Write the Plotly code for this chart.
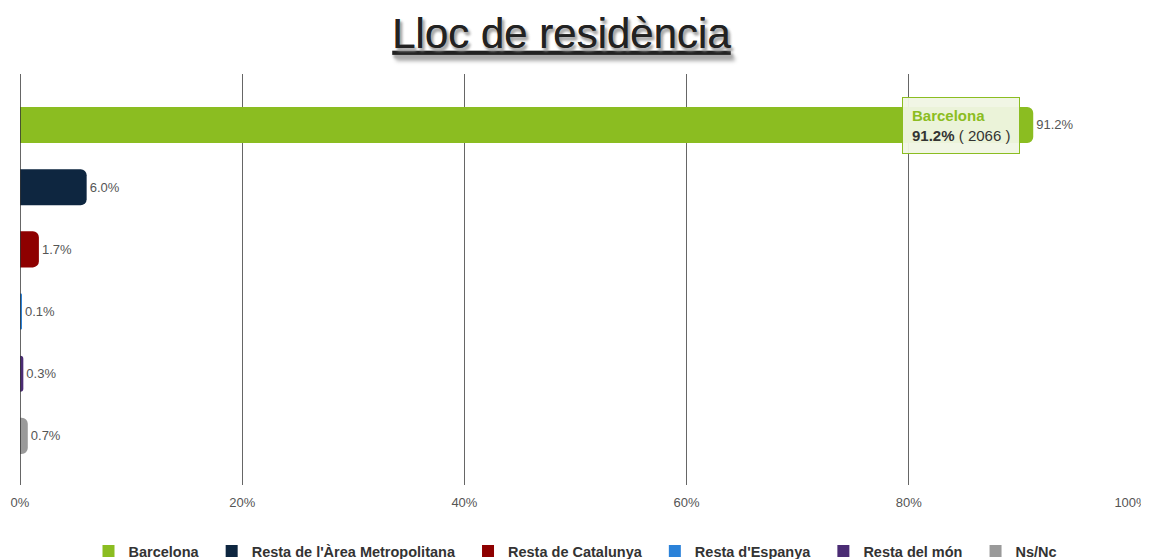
import plotly.graph_objects as go

categories = ["Barcelona", "Resta de l'Àrea Metropolitana", "Resta de Catalunya",
              "Resta d'Espanya", "Resta del món", "Ns/Nc"]
values = [91.2, 6.0, 1.7, 0.1, 0.3, 0.7]
colors = ["#8BBD21", "#0E2640", "#8E0000", "#2B82D9", "#4B2C74", "#9A9A9A"]
barcelona_count = 2066
tick_vals = [0, 20, 40, 60, 80, 100]
tick_text = ["0%", "20%", "40%", "60%", "80%", "100%"]

FONT = "Liberation Sans, Arial, sans-serif"
W, H = 1141, 551  # page body has an 8px margin
GAP = "\u00a0\u00a0"

fig = go.Figure()
for i, (cat, val, col) in enumerate(zip(categories, values, colors)):
    fig.add_trace(go.Bar(
        x=[val], y=[i], orientation="h", name=cat,
        marker=dict(color=col, line=dict(width=0)),
        width=0.58,
        text=[f"{val:.1f}%"], textposition="outside",
        textfont=dict(size=13, color="#555555", family=FONT),
        cliponaxis=False,
        hoverinfo="skip",
        showlegend=False,
    ))
# legend entries with square swatches
n = len(categories)
for k, (cat, col) in enumerate(zip(categories, colors)):
    fig.add_trace(go.Scatter(
        x=[None], y=[None], mode="markers",
        name=cat + (GAP if k < n - 1 else ""),
        marker=dict(symbol="square", size=17, color=col),
        showlegend=True, hoverinfo="skip",
    ))

fig.add_annotation(
    x=values[0], y=0, xref="x", yref="y",
    text=f"<span style='color:#8BBD21'><b>{categories[0]}</b></span><br>"
         f"<b>{values[0]:.1f}%</b> ( {barcelona_count} )",
    showarrow=False, xanchor="right", yanchor="middle",
    xshift=-13, yshift=-1,
    align="left",
    font=dict(size=15, color="#333333", family=FONT),
    bgcolor="rgba(240,245,228,0.95)", bordercolor="#8BBD21", borderwidth=1,
    borderpad=9,
)

fig.update_layout(
    width=W, height=H,
    margin=dict(l=12, r=18, t=66, b=74, autoexpand=False),
    paper_bgcolor="white", plot_bgcolor="white",
    barmode="overlay",
    barcornerradius=6,
    font=dict(family=FONT, color="#333333"),
    title=dict(
        text="<u>Lloc de residència</u>",
        x=553.5 / W, xanchor="center",
        y=1 - 25 / H, yanchor="middle", yref="container",
        font=dict(size=42, color="#222222", family=FONT,
                  shadow="2px 3px 3px #aaaaaa"),
    ),
    xaxis=dict(
        range=[0, 100], tickvals=tick_vals, ticktext=tick_text,
        showgrid=True, gridcolor="#666666", gridwidth=1,
        zeroline=False, showline=False, automargin=False,
        tickfont=dict(size=13, color="#555555", family=FONT),
        ticklabelstandoff=8, fixedrange=True,
    ),
    yaxis=dict(
        range=[5.79, -0.82], showticklabels=False, showgrid=False,
        zeroline=False, showline=False, fixedrange=True, automargin=False,
    ),
    legend=dict(
        orientation="h", x=0.5 - 3 / W, xanchor="center", xref="container",
        y=1 - 543 / H, yanchor="middle", yref="container",
        font=dict(size=14.5, color="#333333", family=FONT, weight="bold"),
        itemclick=False, itemdoubleclick=False,
        traceorder="normal", itemsizing="constant",
    ),
    showlegend=True,
)

fig.add_shape(type="line", xref="x", yref="paper", x0=0, x1=0, y0=0, y1=1,
              line=dict(color="#333333", width=1.5), layer="above")

fig.write_html("out.html")
